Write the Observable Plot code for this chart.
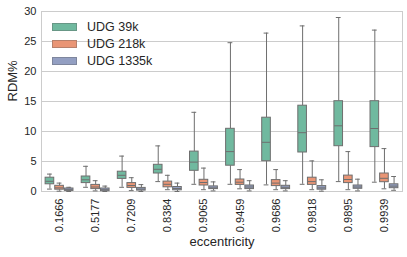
<!DOCTYPE html>
<html><head><meta charset="utf-8">
<script src="https://cdn.jsdelivr.net/npm/d3@7"></script>
<script src="https://cdn.jsdelivr.net/npm/@observablehq/plot@0.6"></script>
<style>
body{margin:0;background:#fff;font-family:"Liberation Sans",Arial,sans-serif}
#wrap{position:relative;width:407px;height:257px}
.legend{position:absolute;left:52px;top:18.5px;font-size:12.5px;color:#262626;line-height:17px}
.item{display:flex;align-items:center;height:17px}
.sw{width:25px;height:8px;margin-right:10px;box-sizing:border-box;border:0.5px solid rgba(90,90,90,0.35)}
</style></head>
<body><div id="wrap"></div>
<script>
const eccentricity = ["0.1666","0.5177","0.7209","0.8384","0.9065","0.9459","0.9686","0.9818","0.9895","0.9939"];
const seriesNames = ["UDG 39k","UDG 218k","UDG 1335k"];
const seriesColors = ["#70b99f","#e99575","#939fc2"];
const yTicks = [0,5,10,15,20,25,30];
// each entry: [whisker low, q1, median, q3, whisker high]
const udg39k = [
  [0.4,1.2,1.7,2.3,2.9],
  [0.7,1.4,1.95,2.5,4.2],
  [0.7,2.1,2.7,3.3,5.9],
  [1.65,3.0,3.7,4.45,7.6],
  [1.2,3.45,4.9,6.65,13.2],
  [1.2,4.3,6.65,10.45,24.8],
  [1.1,5.05,8.2,12.3,26.4],
  [1.2,6.5,9.8,14.3,27.6],
  [1.65,7.55,10.95,15.05,29.0],
  [1.55,7.4,10.5,15.05,26.9]
];
const udg218k = [
  [0.05,0.3,0.6,0.95,1.4],
  [0.1,0.4,0.75,1.1,1.8],
  [0.15,0.6,1.0,1.4,2.3],
  [0.3,0.7,1.2,1.65,2.7],
  [0.3,1.0,1.5,1.95,3.9],
  [0.45,1.1,1.55,2.0,3.65],
  [0.3,0.9,1.4,1.9,3.65],
  [0.3,1.1,1.65,2.3,5.1],
  [0.3,1.4,2.0,2.65,6.65],
  [0.45,1.55,2.2,3.0,7.15]
];
const udg1335k = [
  [0.0,0.1,0.3,0.5,0.7],
  [0.0,0.05,0.3,0.5,0.9],
  [0.0,0.15,0.4,0.6,1.15],
  [0.0,0.2,0.5,0.75,1.4],
  [0.1,0.4,0.6,0.85,1.6],
  [0.1,0.4,0.75,1.0,1.8],
  [0.1,0.4,0.7,0.95,1.8],
  [0.05,0.3,0.6,0.9,1.95],
  [0.1,0.45,0.75,1.0,2.05],
  [0.2,0.55,0.9,1.2,2.5]
];

const boxes = [];
[udg39k, udg218k, udg1335k].forEach((arr, k) => arr.forEach((s, i) =>
  boxes.push({series: seriesNames[k], k, i, lo: s[0], q1: s[1], med: s[2], q3: s[3], hi: s[4]})));
const bw = 0.8 / 3;
const left = d => d.i - 0.4 + d.k * bw;
const right = d => left(d) + bw;
const mid = d => left(d) + bw / 2;
const edge = "#6e6e6e";
const font = '"Liberation Sans", Arial, sans-serif';

const plot = Plot.plot({
  width: 407, height: 257,
  marginTop: 11, marginBottom: 66, marginLeft: 41, marginRight: 5,
  style: {fontFamily: font, fontSize: "11px", color: "#262626", background: "white"},
  x: {domain: [-0.5, 9.5], ticks: d3.range(eccentricity.length), tickFormat: i => eccentricity[i],
      tickRotate: -90, tickSize: 0, tickPadding: 7, label: null},
  y: {domain: [0, 30], ticks: yTicks, tickSize: 0, tickPadding: 5, label: null},
  color: {domain: seriesNames, range: seriesColors},
  marks: [
    Plot.gridY(yTicks, {stroke: "#cccccc", strokeOpacity: 1}),
    Plot.frame({stroke: "#cccccc"}),
    Plot.ruleX(boxes, {x: mid, y1: "lo", y2: "q1", stroke: edge}),
    Plot.ruleX(boxes, {x: mid, y1: "q3", y2: "hi", stroke: edge}),
    Plot.ruleY(boxes, {y: "lo", x1: d => mid(d) - bw / 4, x2: d => mid(d) + bw / 4, stroke: edge}),
    Plot.ruleY(boxes, {y: "hi", x1: d => mid(d) - bw / 4, x2: d => mid(d) + bw / 4, stroke: edge}),
    Plot.rect(boxes, {x1: left, x2: right, y1: "q1", y2: "q3", fill: "series", stroke: edge, insetLeft: 0.5, insetRight: 0.5}),
    Plot.ruleY(boxes, {y: "med", x1: d => left(d) + 0.02, x2: d => right(d) - 0.02, stroke: edge}),
    Plot.text(["RDM%"], {frameAnchor: "left", dx: -29, rotate: -90, fontSize: 13}),
    Plot.text(["eccentricity"], {frameAnchor: "bottom", dy: 54, fontSize: 13})
  ]
});

const wrap = document.getElementById("wrap");
wrap.appendChild(plot);
const color = plot.scale("color");
const leg = document.createElement("div");
leg.className = "legend";
seriesNames.forEach((name, k) => {
  const it = document.createElement("div");
  it.className = "item";
  const sw = document.createElement("span");
  sw.className = "sw";
  sw.style.background = color.range[k];
  const t = document.createElement("span");
  t.textContent = name;
  it.appendChild(sw); it.appendChild(t);
  leg.appendChild(it);
});
wrap.appendChild(leg);
</script></body></html>
